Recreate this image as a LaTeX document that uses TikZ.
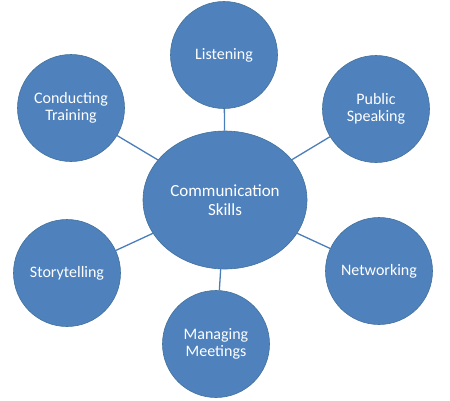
\documentclass[tikz,border=0pt]{standalone}
\usepackage{fontspec}
\setmainfont{Carlito}
\usetikzlibrary{shapes.geometric}
\definecolor{nodeblue}{HTML}{4F81BD}
\definecolor{edgeblue}{HTML}{41719C}
\definecolor{lineblue}{HTML}{4A7EBB}
\begin{document}
\begin{tikzpicture}[x=1pt,y=-1pt,
  bubble/.style={circle,fill=nodeblue,draw=edgeblue,line width=0.6pt,minimum size=107pt,inner sep=0pt,text=white,align=center,font=\fontsize{16}{17}\selectfont},
  hub/.style={ellipse,fill=nodeblue,draw=edgeblue,line width=0.6pt,minimum width=164pt,minimum height=138pt,inner sep=0pt,text=white,align=center,font=\fontsize{17}{18.5}\selectfont},
  link/.style={draw=lineblue,line width=1.3pt}]
\useasboundingbox (0,0) rectangle (450,400);
\node[hub] (c) at (225,200) {Communication\\Skills};
\node[bubble] (l) at (224,55) {Listening};
\node[bubble] (p) at (376,109) {Public\\Speaking};
\node[bubble] (n) at (379,271) {Networking};
\node[bubble] (m) at (216,344) {Managing\\Meetings};
\node[bubble] (s) at (67,273) {Storytelling};
\node[bubble] (t) at (71,108) {Conducting\\Training};
\foreach \o in {l,p,n,m,s,t} \draw[link] (c) -- (\o);
\end{tikzpicture}
\end{document}
